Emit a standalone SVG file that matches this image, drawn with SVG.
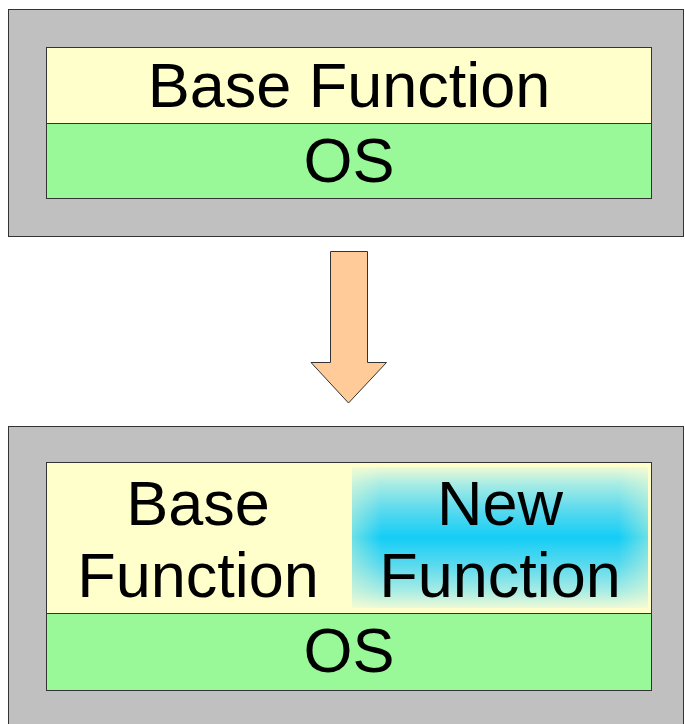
<svg xmlns="http://www.w3.org/2000/svg" width="685" height="724" viewBox="0 0 685 724">
<style>
.outer{fill:#c0c0c0;stroke:#333;stroke-width:1}
.base{fill:#ffffcc;stroke:#333;stroke-width:1}
.os{fill:#99f999;stroke:#333;stroke-width:1}
.t{font-family:"Liberation Sans",Arial,sans-serif;font-size:63px;fill:#000;text-anchor:middle}
</style>
<defs>
<linearGradient id="vg" x1="0" y1="0" x2="0" y2="1">
<stop offset="0" stop-color="#eefad6"/>
<stop offset="0.12" stop-color="#a8ece4"/>
<stop offset="0.3" stop-color="#5cdaee"/>
<stop offset="0.5" stop-color="#14cdf6"/>
<stop offset="0.7" stop-color="#5cdaee"/>
<stop offset="0.88" stop-color="#a8ece4"/>
<stop offset="1" stop-color="#eefad6"/>
</linearGradient>
<linearGradient id="hg" x1="0" y1="0" x2="1" y2="0">
<stop offset="0" stop-color="#a0a0a0"/>
<stop offset="0.1" stop-color="#fff"/>
<stop offset="0.9" stop-color="#fff"/>
<stop offset="1" stop-color="#a0a0a0"/>
</linearGradient>
<mask id="hm" maskUnits="userSpaceOnUse" x="352" y="467" width="296" height="141">
<rect x="352" y="467" width="296" height="141" fill="url(#hg)"/>
</mask>
</defs>
<g id="before">
<rect class="outer" x="8.5" y="9.5" width="675" height="227"/>
<g id="before-base"><rect class="base" x="46.5" y="47.5" width="605" height="76"/><text class="t" x="349" y="107">Base Function</text></g>
<g id="before-os"><rect class="os" x="46.5" y="123.5" width="605" height="75"/><text class="t" x="349" y="182">OS</text></g>
</g>
<g id="connectors">
<polygon points="330.5,251.5 367.5,251.5 367.5,362.5 386.5,362.5 348.5,403 311,362.5 330.5,362.5" fill="#ffcc99" stroke="#333" stroke-width="1"/>
</g>
<g id="after">
<rect class="outer" x="8.5" y="426.5" width="675" height="310"/>
<g id="after-base"><rect class="base" x="46.5" y="462.5" width="605" height="151"/><text class="t" x="198" y="525">Base</text><text class="t" x="198" y="597">Function</text></g>
<g id="after-new"><rect x="352" y="467" width="296" height="141" fill="url(#vg)" mask="url(#hm)"/><text class="t" x="500" y="525">New</text><text class="t" x="500" y="597">Function</text></g>
<g id="after-os"><rect class="os" x="46.5" y="613.5" width="605" height="77"/><text class="t" x="349" y="672">OS</text></g>
</g>
</svg>
